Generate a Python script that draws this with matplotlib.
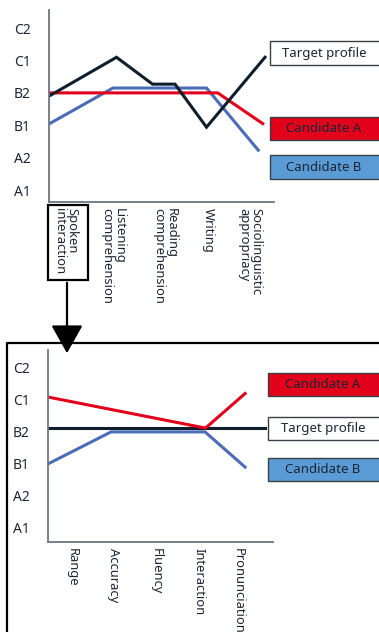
import matplotlib
matplotlib.use("Agg")
import matplotlib.pyplot as plt
from matplotlib.patches import Rectangle, FancyArrowPatch
from matplotlib.lines import Line2D

plt.rcParams['font.family'] = ['Noto Sans', 'DejaVu Sans']

# ---------------- data ----------------
levels = ["A1", "A2", "B1", "B2", "C1", "C2"]
level_vals = [1, 2, 3, 4, 5, 6]

top_categories = ["Spoken\ninteraction", "Listening\ncomprehension", "Reading\ncomprehension",
                  "Writing", "Sociolinguistic\nappropriacy"]
top_cat_pos = [0.076, 0.284, 0.516, 0.707, 0.893]

top_target_x = [0.0, 0.30, 0.46, 0.56, 0.70, 0.96]
top_target_y = [3.9, 5.1, 4.27, 4.27, 2.94, 5.1]
top_candA_x = [0.0, 0.75, 0.95]
top_candA_y = [4.0, 4.0, 3.05]
top_candB_x = [0.0, 0.284, 0.70, 0.93]
top_candB_y = [3.04, 4.15, 4.15, 2.23]

bot_categories = ["Range", "Accuracy", "Fluency", "Interaction", "Pronunciation"]
bot_cat_pos = [0.107, 0.289, 0.48, 0.671, 0.844]

bot_target_x = [0.0, 0.964]
bot_target_y = [4.12, 4.12]
bot_candA_x = [0.0, 0.70, 0.876]
bot_candA_y = [5.09, 4.12, 5.2]
bot_candB_x = [0.0, 0.28, 0.698, 0.876]
bot_candB_y = [3.0, 4.0, 4.0, 2.9]

# ---------------- style ----------------
C_TARGET = "#0f1e2d"
C_A = "#e2001a"
C_B = "#4b6cb7"
C_BOXB = "#5b9bd5"
C_SPINE = "#6b7785"
C_TEXT = "#1a2535"

W, H = 379, 632
fig = plt.figure(figsize=(W / 100, H / 100), dpi=100)


def fx(px):
    return px / W


def fy(py):
    return 1 - py / H


def make_axes(left, top, right, bottom, ylo, yhi):
    ax = fig.add_axes([fx(left), fy(bottom), fx(right) - fx(left), (bottom - top) / H])
    ax.set_xlim(0, 1)
    ax.set_ylim(ylo, yhi)
    for s in ["top", "right"]:
        ax.spines[s].set_visible(False)
    for s in ["left", "bottom"]:
        ax.spines[s].set_color(C_SPINE)
        ax.spines[s].set_linewidth(1.3)
    ax.set_yticks(level_vals)
    ax.set_yticklabels(levels, fontsize=10, color=C_TEXT)
    ax.tick_params(axis="y", length=0, pad=13)
    ax.tick_params(axis="x", length=0, pad=4)
    ax.patch.set_alpha(0)
    return ax


def set_cats(ax, pos, cats):
    ax.set_xticks(pos)
    ax.set_xticklabels(cats, rotation=270, fontsize=9.3, color=C_TEXT,
                       va="top", ha="center", linespacing=0.95,
                       multialignment="left")


def box(x0, y0, x1, y1, fc, label):
    fig.add_artist(Rectangle((fx(x0), fy(y1)), fx(x1) - fx(x0), (y1 - y0) / H,
                             transform=fig.transFigure, facecolor=fc,
                             edgecolor="#3a3f45", linewidth=1.0))
    fig.text(fx((x0 + 378) / 2), fy((y0 + y1) / 2), label, ha="center", va="center",
             fontsize=9.5, color=C_TEXT)


lw = 2.2
# ---------------- top chart ----------------
ax1 = make_axes(49, 10, 274, 202, 0.63, 6.56)
ax1.plot(top_candB_x, top_candB_y, color=C_B, lw=lw, solid_joinstyle="miter")
ax1.plot(top_candA_x, top_candA_y, color=C_A, lw=lw, solid_joinstyle="miter")
ax1.plot(top_target_x, top_target_y, color=C_TARGET, lw=lw, solid_joinstyle="miter")
set_cats(ax1, top_cat_pos, top_categories)

box(270, 41, 382, 65, "white", "Target profile")
box(270, 117, 382, 140, C_A, "Candidate A")
box(270, 155, 382, 179, C_BOXB, "Candidate B")

# highlight box around "Spoken interaction" and arrow
fig.add_artist(Rectangle((fx(48), fy(280)), fx(88) - fx(48), (280 - 205) / H,
                         transform=fig.transFigure, facecolor="none",
                         edgecolor="black", linewidth=1.6))
fig.add_artist(FancyArrowPatch((fx(67), fy(280)), (fx(67), fy(356)),
                               transform=fig.transFigure, arrowstyle="-|>,head_length=0.8,head_width=0.45",
                               mutation_scale=22, color="black", linewidth=1.6))

# frame around lower chart
fig.add_artist(Line2D([fx(7), fx(7), fx(382)], [fy(640), fy(343), fy(343)],
                      transform=fig.transFigure, color="black", linewidth=1.6))

# ---------------- bottom chart ----------------
ax2 = make_axes(48, 350, 273, 542, 0.56, 6.56)
ax2.plot(bot_candB_x, bot_candB_y, color=C_B, lw=lw, solid_joinstyle="miter")
ax2.plot(bot_target_x, bot_target_y, color=C_TARGET, lw=lw, solid_joinstyle="miter")
ax2.plot(bot_candA_x, bot_candA_y, color=C_A, lw=lw, solid_joinstyle="miter")
set_cats(ax2, bot_cat_pos, bot_categories)

box(268, 373, 382, 396, C_A, "Candidate A")
box(268, 417, 382, 440, "white", "Target profile")
box(268, 458, 382, 481, C_BOXB, "Candidate B")

fig.savefig("out.png", dpi=100)
